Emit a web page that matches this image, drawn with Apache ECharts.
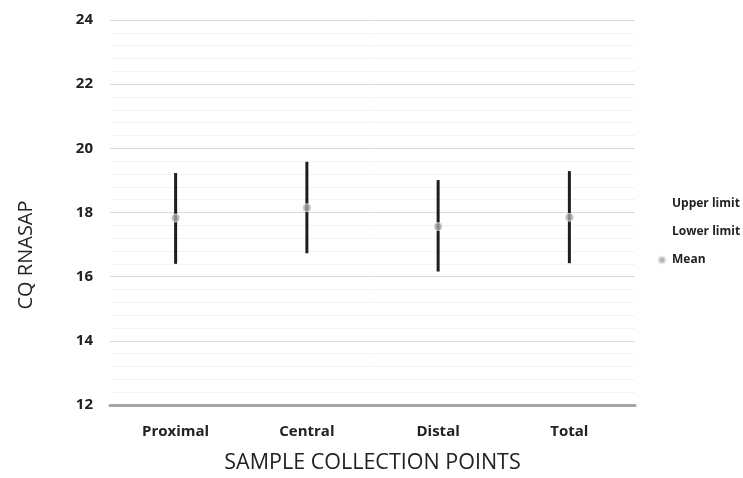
<!DOCTYPE html>
<html>
<head>
<meta charset="utf-8">
<script src="https://cdn.jsdelivr.net/npm/echarts@6/dist/echarts.min.js"></script>
<style>
    html, body { margin: 0; padding: 0; background: #ffffff; }
    #cq-chart { width: 743px; height: 478px; }
</style>
</head>
<body>
<div id="cq-chart"></div>
<script>
const CATEGORIES = ['Proximal', 'Central', 'Distal', 'Total'];
const UPPER_LIMIT = [19.23, 19.58, 19.01, 19.29];
const LOWER_LIMIT = [16.40, 16.73, 16.16, 16.42];
const MEAN = [17.83, 18.15, 17.56, 17.85];
const Y_TICKS = [12, 14, 16, 18, 20, 22, 24];

const FONT = 'Open Sans';
const TEXT_COLOR = '#222222';
const MEAN_COLOR = '#a5a5a5';

let cq_chart = echarts.init(document.getElementById('cq-chart'));

// Vertical high-low line per category, drawn through the axis scales.
function renderLimitLine(params, api) {
    let top = api.coord([api.value(0), api.value(1)]);
    let bottom = api.coord([api.value(0), api.value(2)]);
    return {
        type: 'line',
        shape: {x1: top[0], y1: top[1], x2: bottom[0], y2: bottom[1]},
        style: {stroke: '#1e1e1e', lineWidth: 3}
    };
}

let cq_options = {
    animation: false,
    textStyle: {fontFamily: FONT},
    grid: {left: 110, right: 108, top: 20, bottom: 73, outerBoundsMode: 'none', containLabel: false},
    // The y title sits below the middle of the axis in the original, so it is placed by hand.
    graphic: [
        {
            type: 'text',
            x: 26,
            y: 255,
            rotation: Math.PI / 2,
            style: {
                text: 'CQ RNASAP',
                fontFamily: FONT,
                fontSize: 20,
                fill: TEXT_COLOR,
                align: 'center',
                verticalAlign: 'middle'
            }
        }
    ],
    legend: {
        orient: 'vertical',
        left: 652,
        top: 190,
        itemWidth: 10,
        itemHeight: 7,
        itemGap: 10,
        selectedMode: false,
        textStyle: {fontFamily: FONT, fontSize: 12, fontWeight: 'bold', color: TEXT_COLOR, lineHeight: 18},
        data: [
            {name: 'Upper limit', icon: 'none'},
            {name: 'Lower limit', icon: 'none'},
            {name: 'Mean', icon: 'circle'}
        ]
    },
    xAxis: {
        type: 'category',
        data: CATEGORIES,
        name: 'SAMPLE COLLECTION POINTS',
        nameLocation: 'middle',
        nameGap: 47,
        nameTextStyle: {fontFamily: FONT, fontSize: 21.5, color: TEXT_COLOR},
        axisTick: {show: false},
        axisLine: {lineStyle: {color: '#a6a6a6', width: 3}},
        axisLabel: {fontFamily: FONT, fontSize: 15, fontWeight: 'bold', color: TEXT_COLOR, margin: 19},
        splitLine: {show: false}
    },
    yAxis: {
        type: 'value',
        min: Y_TICKS[0],
        max: Y_TICKS[Y_TICKS.length - 1],
        interval: 2,
        axisLine: {show: false},
        axisTick: {show: false},
        axisLabel: {fontFamily: FONT, fontSize: 15, fontWeight: 'bold', color: TEXT_COLOR, margin: 17},
        splitLine: {lineStyle: {color: '#dcdcdc', width: 1}},
        minorTick: {show: false, splitNumber: 5},
        minorSplitLine: {show: true, lineStyle: {color: '#f3f3f3', width: 1}}
    },
    series: [
        {
            name: 'Upper limit',
            type: 'line',
            data: UPPER_LIMIT,
            symbol: 'none',
            lineStyle: {width: 0, opacity: 0},
            silent: true
        },
        {
            name: 'Lower limit',
            type: 'line',
            data: LOWER_LIMIT,
            symbol: 'none',
            lineStyle: {width: 0, opacity: 0},
            silent: true
        },
        {
            name: 'limits',
            type: 'custom',
            renderItem: renderLimitLine,
            encode: {x: 0, y: [1, 2]},
            data: CATEGORIES.map(function (c, i) { return [i, UPPER_LIMIT[i], LOWER_LIMIT[i]]; }),
            z: 2
        },
        {
            name: 'Mean',
            type: 'scatter',
            data: MEAN,
            symbol: 'circle',
            symbolSize: 8,
            itemStyle: {color: MEAN_COLOR, borderColor: '#e6e6e6', borderWidth: 1},
            z: 3
        }
    ]
};

cq_chart.setOption(cq_options);

window.addEventListener('resize', function () {
    cq_chart.resize();
});
</script>
</body>
</html>
